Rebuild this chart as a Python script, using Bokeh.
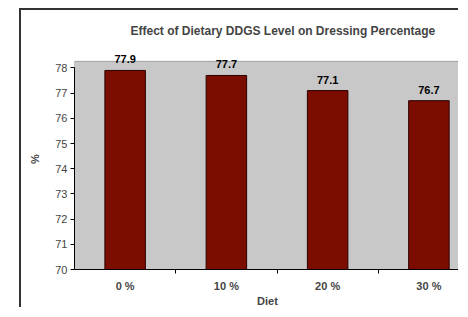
from bokeh.plotting import figure
from bokeh.models import ColumnDataSource, LabelSet, FixedTicker, Range1d
from bokeh.core.properties import value
from bokeh.embed import file_html
from bokeh.resources import INLINE

categories = ["0 %", "10 %", "20 %", "30 %"]
values = [77.9, 77.7, 77.1, 76.7]
value_labels = ["77.9", "77.7", "77.1", "76.7"]
y_ticks = [70, 71, 72, 73, 74, 75, 76, 77, 78]

centers = [i + 0.5 for i in range(len(categories))]
bottoms = [70] * len(values)
src = ColumnDataSource(dict(x=centers, top=values, bottom=bottoms, lab=value_labels))

FONT = "Liberation Sans"
X_END = 3.812
Y_PLOT_TOP = 78.26

p = figure(width=439, height=299, output_backend="svg", toolbar_location=None,
           x_range=Range1d(0, X_END), y_range=Range1d(70, 78.77),
           min_border_left=53, min_border_right=0, min_border_top=36, min_border_bottom=39,
           title="Effect of Dietary DDGS Level on Dressing Percentage")
p.styles = {"margin-left": "19px", "margin-top": "8px",
            "border-left": "2px solid #333", "border-top": "2px solid #333"}

p.background_fill_color = "white"
p.border_fill_color = "white"
p.outline_line_color = None
p.xgrid.visible = False
p.ygrid.visible = False

p.quad(left=[0], right=[X_END], bottom=[70], top=[Y_PLOT_TOP],
       fill_color="#C8C8C8", line_color="#A0A0A0", line_width=1)

p.vbar(x="x", top="top", bottom="bottom", width=0.4, source=src,
       fill_color="#7B0C00", line_color="#2a0000", line_width=1)

p.add_layout(LabelSet(x="x", y="top", text="lab", source=src, text_align="center",
                      text_baseline="bottom", y_offset=7, text_font=value(FONT),
                      text_font_size="11px", text_font_style="bold", text_color="black"))

p.title.text_font = FONT
p.title.text_font_size = "12px"
p.title.text_font_style = "bold"
p.title.align = "left"
p.title.offset = 56
p.title.standoff = 22

xa = p.xaxis[0]
xa.ticker = FixedTicker(ticks=centers, minor_ticks=[1, 2, 3])
xa.major_label_overrides = {c: lab for c, lab in zip(centers, categories)}
xa.major_tick_line_color = None
xa.major_tick_out = 0
xa.major_tick_in = 0
xa.minor_tick_out = 4
xa.minor_tick_in = 0
xa.minor_tick_line_color = "black"
xa.axis_line_color = "black"
xa.major_label_text_font = FONT
xa.major_label_text_font_size = "11px"
xa.major_label_text_font_style = "bold"
xa.major_label_standoff = 6
xa.axis_label = "Diet"
xa.axis_label_text_font = FONT
xa.axis_label_text_font_size = "11px"
xa.axis_label_text_font_style = "bold"
xa.axis_label_standoff = 0

ya = p.yaxis[0]
ya.ticker = FixedTicker(ticks=y_ticks)
ya.bounds = (70, 78)
ya.minor_tick_line_color = None
ya.major_tick_out = 4
ya.major_tick_in = 0
ya.axis_line_color = "black"
ya.major_label_text_font = FONT
ya.major_label_text_font_size = "11px"
ya.major_label_standoff = 3
ya.axis_label = "%"
ya.axis_label_text_font = FONT
ya.axis_label_text_font_size = "11px"
ya.axis_label_text_font_style = "bold"
ya.axis_label_standoff = 11

open("out.html", "w").write(file_html(p, INLINE))
